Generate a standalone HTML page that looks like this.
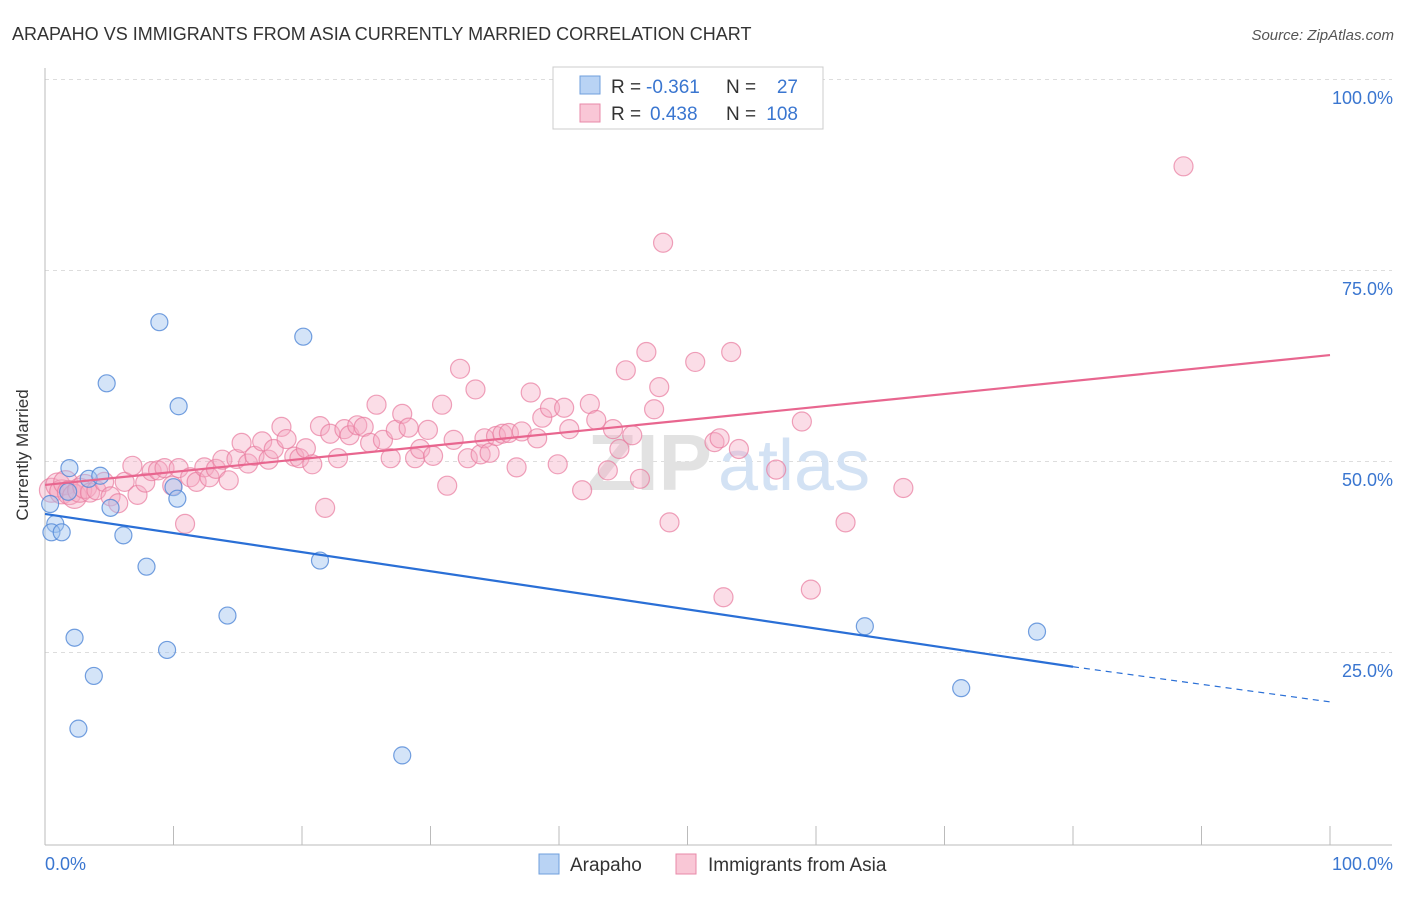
<!DOCTYPE html>
<html><head><meta charset="utf-8"><style>
body{margin:0;background:#fff;font-family:"Liberation Sans",sans-serif;}
svg text{font-family:"Liberation Sans",sans-serif;}
</style></head><body>
<svg width="1406" height="892" xmlns="http://www.w3.org/2000/svg">
<text x="12" y="40" font-size="18" fill="#333">ARAPAHO VS IMMIGRANTS FROM ASIA CURRENTLY MARRIED CORRELATION CHART</text>
<text x="1394" y="40" font-size="15" fill="#555" text-anchor="end" font-style="italic">Source: ZipAtlas.com</text>
<g id="grid"></g>
<g id="axes"></g>
<text x="712" y="490" font-size="80" fill="#e2e2e2" text-anchor="end" font-weight="bold">ZIP</text>
<text x="718" y="490" font-size="72" fill="#d3e2f4">atlas</text>
<g id="pink"></g><g id="blue"></g><g id="lines"></g>
<text x="28" y="455" font-size="17" fill="#333" text-anchor="middle" transform="rotate(-90 28 455)">Currently Married</text>
<rect x="553" y="67" width="270" height="62" fill="#fff" stroke="#ccc"/>
<rect x="580" y="76" width="20" height="18" fill="#b9d3f4" stroke="#6f9fdc"/>
<rect x="580" y="104" width="20" height="18" fill="#f9c7d6" stroke="#e88aa8"/>
<g font-size="19">
<text x="611" y="93" fill="#333">R =</text><text x="646" y="93" fill="#3a76d0">-0.361</text>
<text x="726" y="93" fill="#333">N =</text><text x="798" y="93" fill="#3a76d0" text-anchor="end">27</text>
<text x="611" y="120" fill="#333">R =</text><text x="650" y="120" fill="#3a76d0">0.438</text>
<text x="726" y="120" fill="#333">N =</text><text x="798" y="120" fill="#3a76d0" text-anchor="end">108</text>
</g>
<rect x="539" y="854" width="20" height="20" fill="#b9d3f4" stroke="#6f9fdc"/>
<text x="570" y="871" font-size="19" fill="#333">Arapaho</text>
<rect x="676" y="854" width="20" height="20" fill="#f9c7d6" stroke="#e88aa8"/>
<text x="708" y="871" font-size="19" fill="#333">Immigrants from Asia</text>
</svg>
<script>
const yTicks=[25,50,75,100];
const yTickLabels=["25.0%","50.0%","75.0%","100.0%"];
const xTickLabels=["0.0%","100.0%"];
const blueX=[0.4,0.8,0.5,1.3,1.9,2.3,2.6,3.4,3.8,4.3,4.8,5.1,6.1,7.9,8.9,9.5,10.0,10.3,10.4,14.2,20.1,21.4,27.8,63.8,71.3,77.2,1.8];
const blueY=[44.5,41.9,40.8,40.8,49.2,27.0,15.1,47.8,22.0,48.2,60.3,44.0,40.4,36.3,68.3,25.4,46.7,45.2,57.3,29.9,66.4,37.1,11.6,28.5,20.4,27.8,46.1];
const pinkX=[0.5,1.0,1.3,1.6,1.9,2.3,2.7,3.1,3.5,4.0,4.6,5.1,5.7,6.2,6.8,7.2,7.8,8.3,8.8,9.3,9.9,10.4,10.9,11.3,11.8,12.4,12.8,13.3,13.8,14.3,14.9,15.3,15.8,16.3,16.9,17.4,17.8,18.4,18.8,19.4,19.8,20.3,20.8,21.4,21.8,22.2,22.8,23.3,23.7,24.3,24.8,25.3,25.8,26.3,26.9,27.3,27.8,28.3,28.8,29.2,29.8,30.2,30.9,31.3,31.8,32.3,32.9,33.5,33.9,34.2,34.6,35.1,35.6,36.1,36.7,37.1,37.8,38.3,38.7,39.3,39.9,40.4,40.8,41.8,42.4,42.9,43.8,44.2,44.7,45.2,45.7,46.3,46.8,47.4,47.8,48.1,48.6,50.6,52.1,52.5,52.8,53.4,54.0,56.9,58.9,59.6,62.3,66.8,88.6];
const pinkY=[46.3,47.0,46.1,47.3,46.0,45.5,46.3,46.8,46.0,46.3,47.4,45.5,44.6,47.4,49.5,45.7,47.3,48.8,48.9,49.2,46.9,49.2,41.9,48.0,47.4,49.3,48.0,49.1,50.3,47.6,50.4,52.5,49.8,50.8,52.7,50.3,51.7,54.6,53.0,50.7,50.5,51.8,49.7,54.7,44.0,53.7,50.5,54.3,53.5,54.8,54.6,52.5,57.5,52.9,50.5,54.2,56.3,54.5,50.5,51.7,54.2,50.8,57.5,46.9,52.9,62.2,50.5,59.5,51.0,53.1,51.2,53.4,53.7,53.8,49.3,54.0,59.1,53.1,55.8,57.1,49.7,57.1,54.3,46.3,57.6,55.5,48.9,54.3,51.7,62.0,53.5,47.8,64.4,56.9,59.8,78.7,42.1,63.1,52.6,53.1,32.3,64.4,51.7,49.0,55.3,33.3,42.1,46.6,88.7];
const blueLine=[43.2,23.2,18.6];
const pinkLine=[47.0,64.0];
const X0=45,X1=1330,Y0=844,YS=7.64;
const xs=v=>X0+(X1-X0)*v/100, ys=v=>Y0-v*YS;
const NS="http://www.w3.org/2000/svg";
function mk(p,t,a){const e=document.createElementNS(NS,t);for(const k in a)e.setAttribute(k,a[k]);document.getElementById(p).appendChild(e);return e;}
yTicks.forEach((t,i)=>{
 const l=mk('grid','line',{x1:X0,x2:1392,y1:ys(t)-0.5,y2:ys(t)-0.5,stroke:'#ddd','stroke-dasharray':'4,4'});
 
 
 const tx=mk('grid','text',{x:1393,y:ys(t)+24,'font-size':18,fill:'#3a76d0','text-anchor':'end'});
 tx.textContent=yTickLabels[i];
 
 
});
let a=mk('axes','line',{x1:X0,x2:X0,y1:68,y2:845,stroke:'#bbb'});


a=mk('axes','line',{x1:X0,x2:1392,y1:845,y2:845,stroke:'#bbb'});


for(let i=1;i<=10;i++){const t=mk('axes','line',{x1:xs(i*10),x2:xs(i*10),y1:826,y2:845,stroke:'#bbb'});
 
 }
[[X0,'start'],[1393,'end']].forEach((p,i)=>{const t=mk('axes','text',{x:p[0],y:870,'font-size':18,fill:'#3a76d0','text-anchor':p[1]});t.textContent=xTickLabels[i];
 
 });
pinkX.forEach((x,i)=>{const c=mk('pink','circle',{cx:xs(x),cy:ys(pinkY[i]),r:i<8?12:9.5,fill:'rgba(246,170,194,0.4)',stroke:'rgba(232,122,158,0.7)','stroke-width':1.2});
 
 });
blueX.forEach((x,i)=>{const c=mk('blue','circle',{cx:xs(x),cy:ys(blueY[i]),r:8.5,fill:'rgba(160,196,240,0.45)',stroke:'rgba(80,135,215,0.8)','stroke-width':1.2});
 
 });
let ln=mk('lines','line',{x1:xs(0),y1:ys(blueLine[0]),x2:xs(80),y2:ys(blueLine[1]),stroke:'#2a6fd6','stroke-width':2.2});


ln=mk('lines','line',{x1:xs(80),y1:ys(blueLine[1]),x2:xs(100),y2:ys(blueLine[2]),stroke:'#2a6fd6','stroke-width':1.2,'stroke-dasharray':'6,5'});


ln=mk('lines','line',{x1:xs(0),y1:ys(pinkLine[0]),x2:xs(100),y2:ys(pinkLine[1]),stroke:'#e8668f','stroke-width':2.2});


</script>
</body></html>
